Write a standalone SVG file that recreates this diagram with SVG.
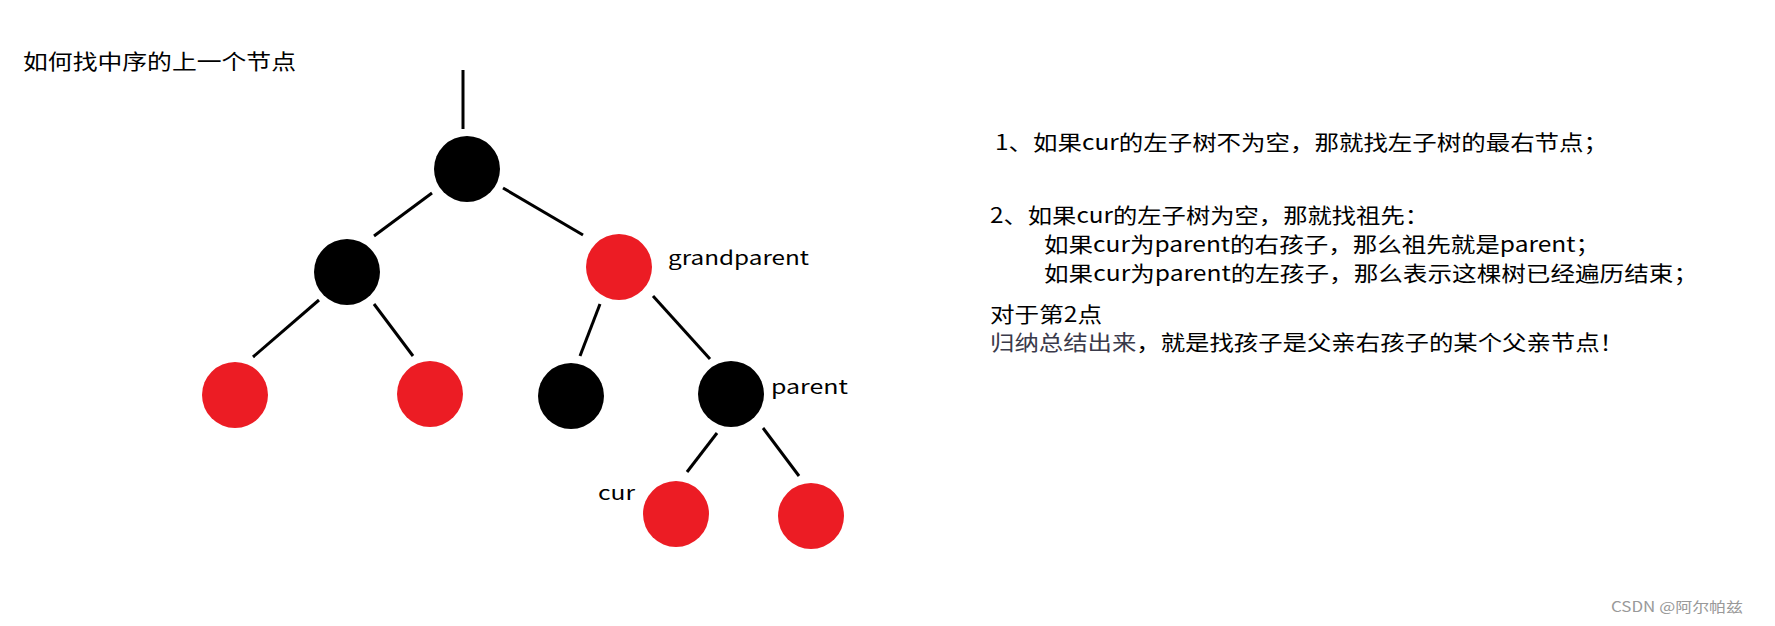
<svg xmlns="http://www.w3.org/2000/svg" width="1775" height="626" viewBox="0 0 1775 626">
<style>
text{font-family:"Noto Sans CJK SC","Noto Sans CJK SC",sans-serif;fill:#000;font-size:21px}
.lbl{font-size:19px}
.b{fill:#000}.r{fill:#ec1c24}
#edges line{stroke:#000;stroke-width:3}
</style>
<rect width="1775" height="626" fill="#fff"/>
<text x="23" y="69" textLength="273" lengthAdjust="spacingAndGlyphs">如何找中序的上一个节点</text>
<g id="edges">
<line x1="463" y1="70" x2="463" y2="129"/>
<line x1="432" y1="193" x2="374" y2="236"/>
<line x1="503" y1="188" x2="583" y2="235"/>
<line x1="319" y1="300" x2="253" y2="357"/>
<line x1="374" y1="304" x2="413" y2="356"/>
<line x1="600" y1="304" x2="580" y2="356"/>
<line x1="653" y1="296" x2="710" y2="359"/>
<line x1="717" y1="433" x2="687" y2="472"/>
<line x1="763" y1="428" x2="799" y2="476"/>
</g>
<g id="root"><circle class="b" cx="467" cy="169" r="33"/></g>
<g id="left"><circle class="b" cx="347" cy="272" r="33"/></g>
<g id="grandparent"><circle class="r" cx="619" cy="267" r="33"/><text class="lbl" x="668" y="265" textLength="141" lengthAdjust="spacingAndGlyphs">grandparent</text></g>
<g id="ll"><circle class="r" cx="235" cy="395" r="33"/></g>
<g id="lr"><circle class="r" cx="430" cy="394" r="33"/></g>
<g id="rl"><circle class="b" cx="571" cy="396" r="33"/></g>
<g id="parent"><circle class="b" cx="731" cy="394" r="33"/><text class="lbl" x="771" y="394" textLength="77" lengthAdjust="spacingAndGlyphs">parent</text></g>
<g id="cur"><circle class="r" cx="676" cy="514" r="33"/><text class="lbl" x="598" y="500" textLength="37" lengthAdjust="spacingAndGlyphs">cur</text></g>
<g id="rrr"><circle class="r" cx="811" cy="516" r="33"/></g>
<g id="notes">
<text x="995" y="150" textLength="613" lengthAdjust="spacingAndGlyphs">1、如果cur的左子树不为空，那就找左子树的最右节点；</text>
<text x="990" y="223" textLength="439" lengthAdjust="spacingAndGlyphs">2、如果cur的左子树为空，那就找祖先：</text>
<text x="1044" y="252" textLength="556" lengthAdjust="spacingAndGlyphs">如果cur为parent的右孩子，那么祖先就是parent；</text>
<text x="1044" y="281" textLength="654" lengthAdjust="spacingAndGlyphs">如果cur为parent的左孩子，那么表示这棵树已经遍历结束；</text>
<text x="990" y="322" textLength="112" lengthAdjust="spacingAndGlyphs">对于第2点</text>
<text x="990" y="350" textLength="634" lengthAdjust="spacingAndGlyphs"><tspan fill="#3a3a4a">归纳总结出来</tspan>，就是找孩子是父亲右孩子的某个父亲节点！</text>
</g>
<text x="1611" y="612" style="font-size:14px;fill:#999" textLength="132" lengthAdjust="spacingAndGlyphs">CSDN @阿尔帕兹</text>
</svg>
